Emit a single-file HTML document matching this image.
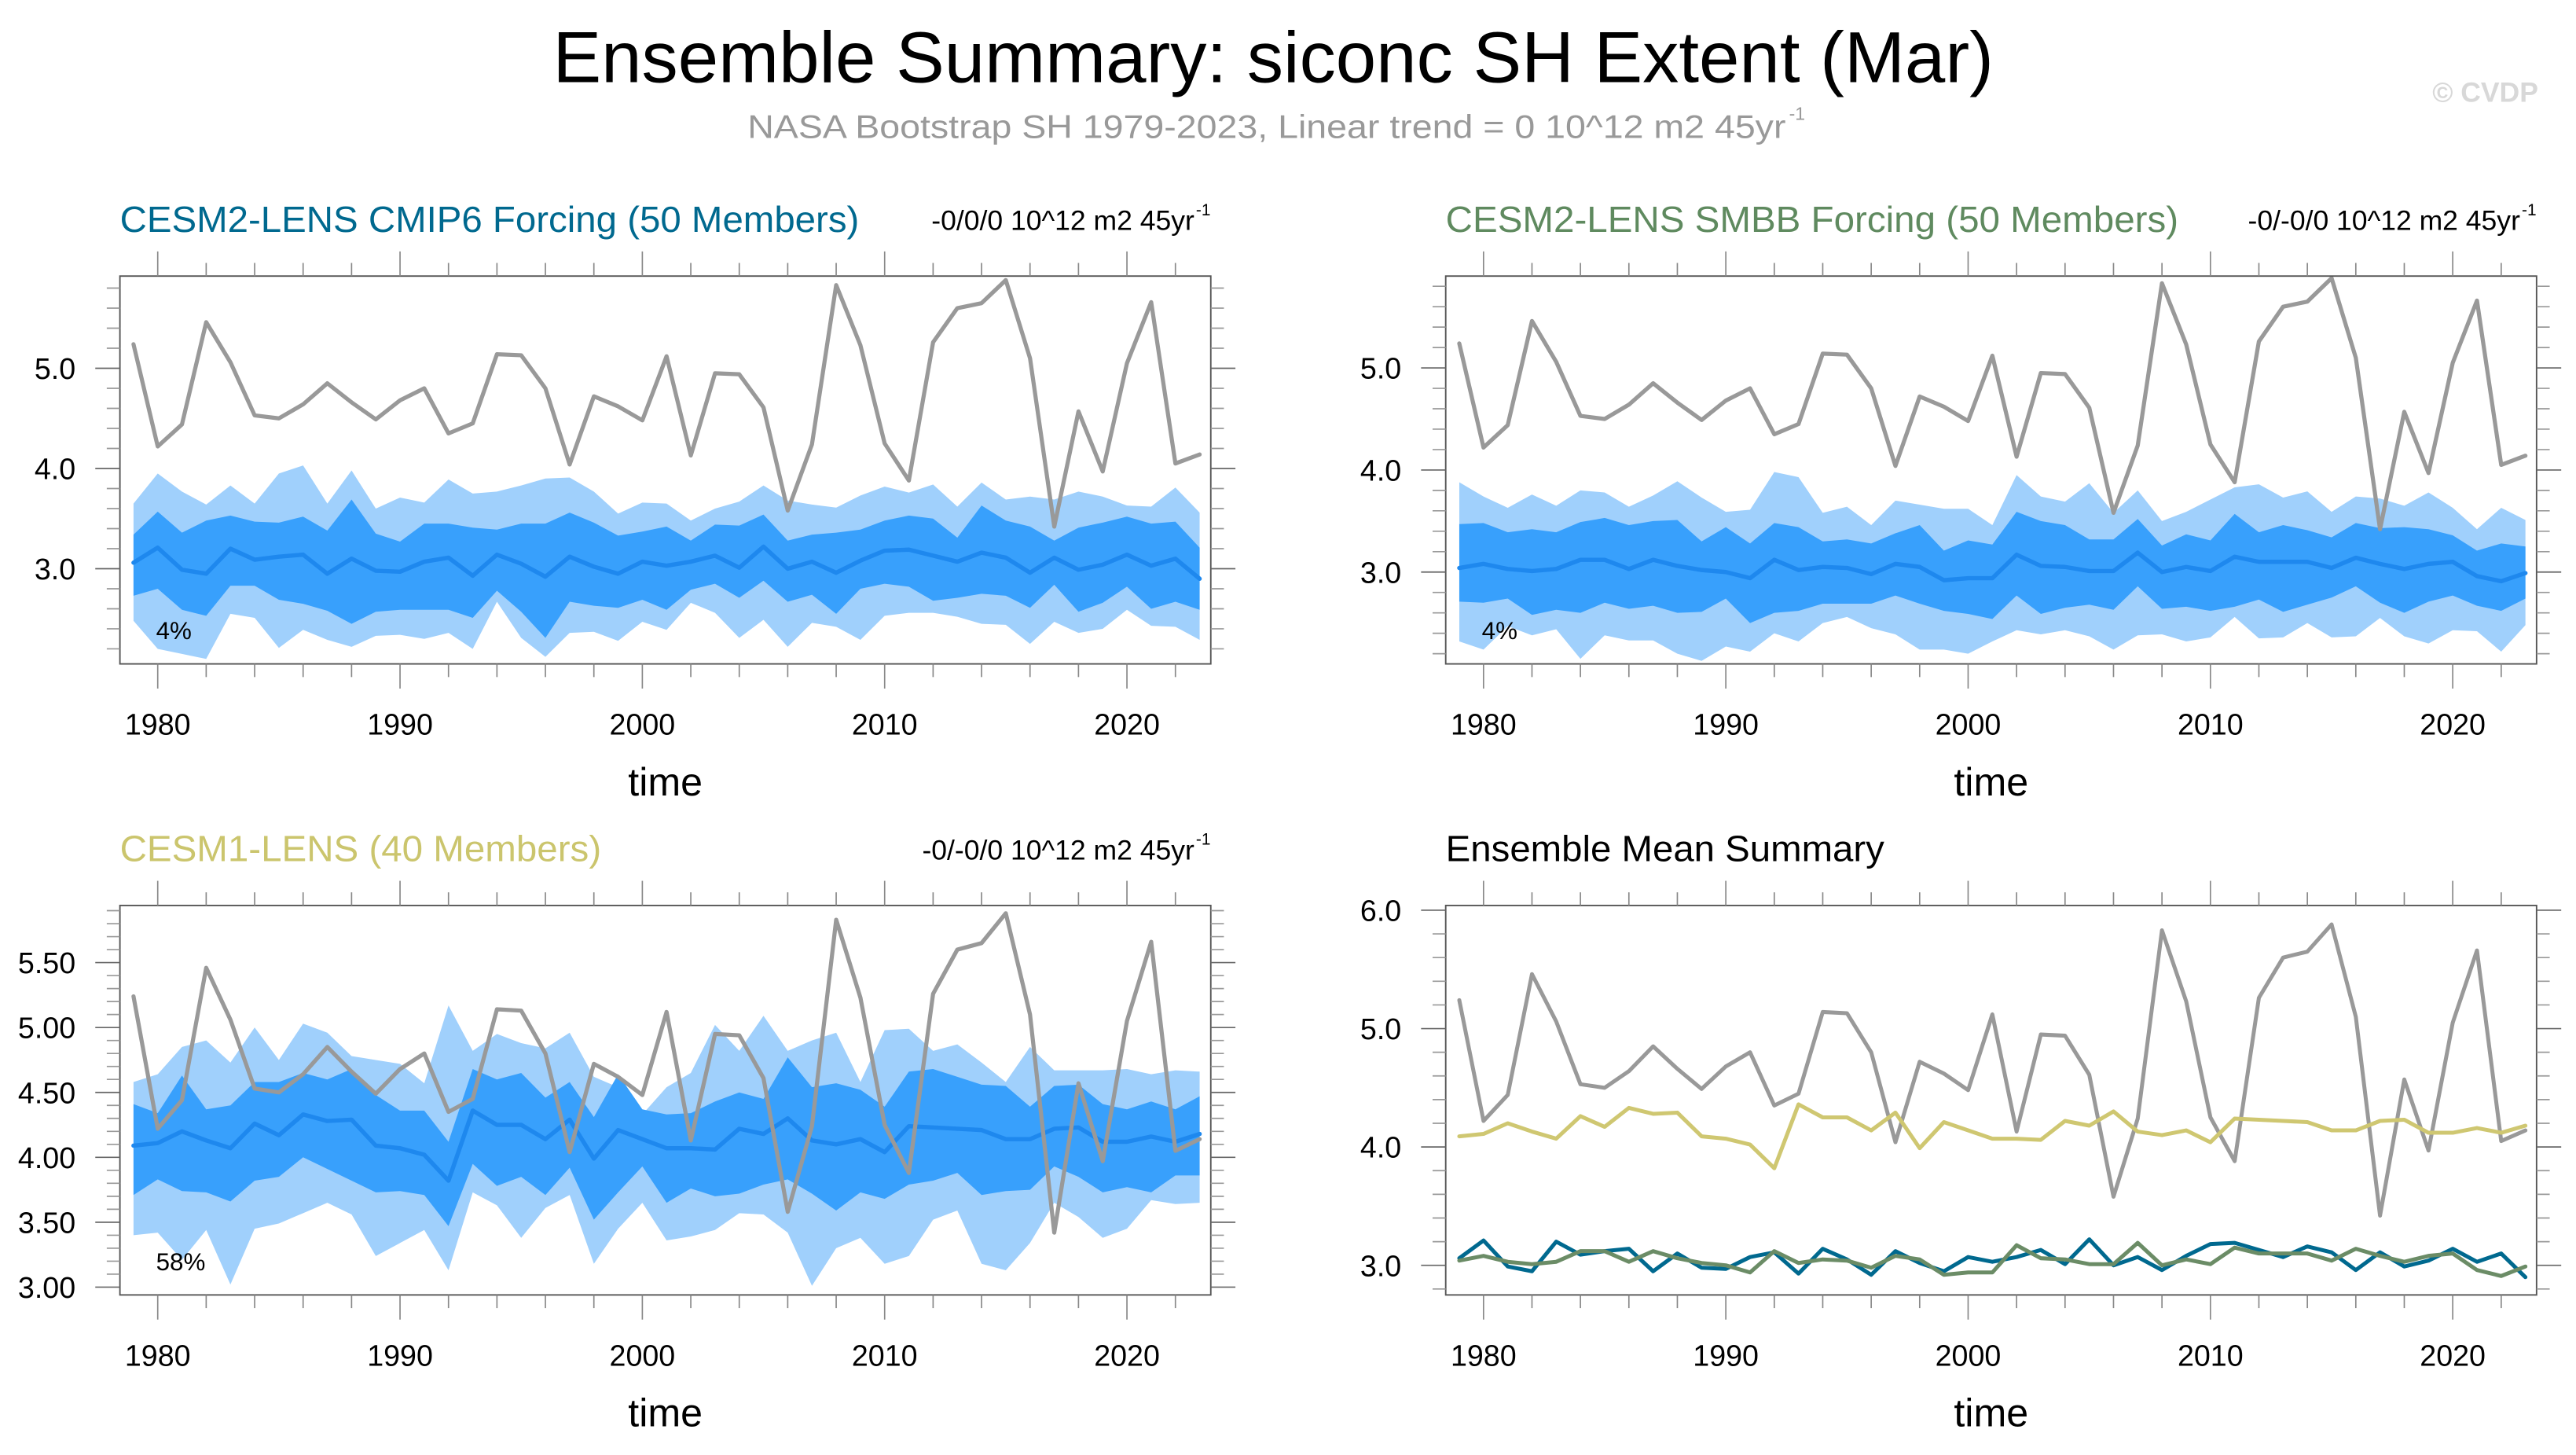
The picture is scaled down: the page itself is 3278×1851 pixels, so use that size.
<!DOCTYPE html>
<html><head><meta charset="utf-8"><style>
html,body{margin:0;padding:0;background:#fff;}
svg{display:block;font-family:"Liberation Sans",Arial,sans-serif;}
</style></head><body>
<svg id="fig" xmlns="http://www.w3.org/2000/svg" width="3278" height="1851" viewBox="0 0 1568 885.4">
<rect width="1568" height="885.4" fill="#fff"/>
<text x="775" y="50" font-size="44" text-anchor="middle" textLength="877" lengthAdjust="spacingAndGlyphs">Ensemble Summary: siconc SH Extent (Mar)</text>
<text x="455" y="84" font-size="20" fill="#999" textLength="632" lengthAdjust="spacingAndGlyphs">NASA Bootstrap SH 1979-2023, Linear trend = 0 10^12 m2 45yr</text>
<text x="1089" y="73" font-size="11" fill="#999">-1</text>
<text x="1545" y="62" font-size="17" font-weight="bold" fill="#d8d8d8" text-anchor="end">© CVDP</text>
<g id="panels"></g>
</svg>
<script>
const years=[];for(let y=1979;y<=2023;y++)years.push(y);
const obs=[5.24,4.22,4.44,5.46,5.06,4.53,4.50,4.64,4.85,4.66,4.49,4.68,4.80,4.35,4.45,5.14,5.13,4.80,4.04,4.72,4.62,4.48,5.12,4.13,4.95,4.94,4.61,3.58,4.24,5.83,5.23,4.25,3.88,5.26,5.60,5.65,5.88,5.10,3.42,4.57,3.97,5.05,5.66,4.05,4.14];
const cmip6Mean=[3.06,3.21,2.99,2.95,3.20,3.09,3.12,3.14,2.95,3.10,2.98,2.97,3.07,3.11,2.93,3.14,3.05,2.92,3.12,3.02,2.95,3.07,3.03,3.07,3.13,3.01,3.22,3.00,3.07,2.96,3.08,3.18,3.19,3.13,3.07,3.16,3.11,2.96,3.11,2.99,3.04,3.14,3.03,3.10,2.90];
const cmip6OuterHi=[3.65,3.95,3.77,3.64,3.83,3.65,3.95,4.03,3.65,3.98,3.60,3.71,3.66,3.89,3.75,3.77,3.83,3.90,3.91,3.77,3.55,3.66,3.65,3.48,3.60,3.67,3.83,3.68,3.64,3.61,3.73,3.82,3.76,3.84,3.62,3.86,3.69,3.72,3.69,3.77,3.72,3.63,3.62,3.81,3.56];
const cmip6InnerHi=[3.34,3.57,3.36,3.48,3.53,3.47,3.46,3.52,3.38,3.69,3.35,3.27,3.45,3.45,3.41,3.39,3.45,3.45,3.56,3.46,3.33,3.37,3.42,3.28,3.44,3.43,3.54,3.28,3.34,3.36,3.39,3.48,3.53,3.50,3.31,3.63,3.48,3.42,3.28,3.41,3.46,3.52,3.45,3.47,3.21];
const cmip6InnerLo=[2.73,2.80,2.59,2.53,2.83,2.83,2.69,2.65,2.58,2.45,2.57,2.59,2.59,2.59,2.51,2.78,2.57,2.31,2.67,2.63,2.61,2.69,2.59,2.79,2.85,2.71,2.88,2.67,2.74,2.55,2.80,2.85,2.82,2.68,2.71,2.75,2.73,2.61,2.84,2.57,2.66,2.82,2.60,2.67,2.59];
const cmip6OuterLo=[2.48,2.20,2.15,2.10,2.55,2.51,2.21,2.39,2.29,2.22,2.33,2.34,2.30,2.36,2.20,2.67,2.31,2.12,2.36,2.37,2.28,2.47,2.39,2.66,2.56,2.31,2.49,2.22,2.46,2.42,2.29,2.53,2.56,2.56,2.52,2.45,2.44,2.25,2.47,2.36,2.40,2.59,2.43,2.42,2.29];
const smbbMean=[3.04,3.08,3.03,3.01,3.03,3.12,3.12,3.03,3.12,3.06,3.02,3.00,2.94,3.12,3.02,3.05,3.04,2.98,3.08,3.05,2.92,2.94,2.94,3.17,3.06,3.05,3.01,3.01,3.19,3.00,3.05,3.01,3.15,3.10,3.10,3.10,3.04,3.14,3.08,3.03,3.08,3.10,2.96,2.91,2.99];
const smbbOuterHi=[3.88,3.74,3.63,3.76,3.65,3.80,3.78,3.64,3.75,3.89,3.73,3.59,3.61,3.98,3.93,3.58,3.64,3.46,3.70,3.66,3.62,3.62,3.46,3.95,3.74,3.69,3.87,3.58,3.80,3.50,3.59,3.71,3.83,3.86,3.73,3.79,3.59,3.74,3.72,3.65,3.78,3.63,3.42,3.63,3.51];
const smbbInnerHi=[3.47,3.48,3.39,3.42,3.39,3.49,3.53,3.46,3.50,3.51,3.30,3.44,3.28,3.48,3.44,3.30,3.32,3.28,3.38,3.46,3.21,3.31,3.27,3.59,3.50,3.46,3.32,3.32,3.52,3.26,3.37,3.31,3.57,3.39,3.46,3.41,3.34,3.48,3.43,3.44,3.42,3.36,3.21,3.28,3.25];
const smbbInnerLo=[2.71,2.70,2.74,2.58,2.63,2.60,2.70,2.64,2.67,2.60,2.61,2.74,2.50,2.60,2.62,2.69,2.69,2.69,2.77,2.69,2.62,2.59,2.54,2.77,2.59,2.65,2.68,2.63,2.86,2.64,2.66,2.62,2.66,2.73,2.61,2.68,2.75,2.86,2.70,2.60,2.71,2.77,2.67,2.62,2.74];
const smbbOuterLo=[2.32,2.24,2.47,2.38,2.44,2.15,2.38,2.33,2.33,2.20,2.13,2.27,2.22,2.40,2.32,2.50,2.56,2.45,2.39,2.24,2.24,2.20,2.32,2.43,2.39,2.43,2.37,2.24,2.38,2.39,2.32,2.36,2.56,2.35,2.36,2.50,2.36,2.37,2.55,2.37,2.30,2.43,2.42,2.22,2.48];
const lens1Mean=[4.09,4.11,4.20,4.13,4.07,4.26,4.17,4.33,4.28,4.29,4.09,4.07,4.02,3.82,4.36,4.25,4.25,4.14,4.29,3.99,4.21,4.14,4.07,4.07,4.06,4.22,4.18,4.30,4.13,4.10,4.14,4.04,4.24,4.23,4.22,4.21,4.14,4.14,4.22,4.23,4.12,4.12,4.16,4.12,4.18];
const lens1OuterHi=[4.58,4.64,4.85,4.90,4.73,5.00,4.75,5.03,4.96,4.78,4.75,4.72,4.57,5.17,4.82,4.95,4.88,4.84,4.96,4.62,4.54,4.33,4.54,4.65,5.02,4.82,5.09,4.82,4.90,4.96,4.58,4.98,4.99,4.82,4.87,4.73,4.58,4.85,4.67,4.67,4.67,4.68,4.64,4.67,4.66];
const lens1InnerHi=[4.41,4.34,4.63,4.37,4.40,4.58,4.58,4.65,4.60,4.68,4.48,4.36,4.36,4.12,4.68,4.60,4.65,4.46,4.58,4.31,4.64,4.37,4.33,4.34,4.43,4.50,4.45,4.77,4.54,4.57,4.52,4.39,4.66,4.68,4.62,4.56,4.55,4.39,4.55,4.56,4.41,4.37,4.43,4.37,4.47];
const lens1InnerLo=[3.71,3.83,3.74,3.73,3.66,3.82,3.85,4.00,3.91,3.82,3.73,3.74,3.71,3.47,3.95,3.78,3.85,3.71,3.92,3.52,3.73,3.93,3.65,3.76,3.70,3.72,3.79,3.83,3.72,3.59,3.73,3.68,3.79,3.82,3.88,3.71,3.74,3.75,3.93,3.85,3.73,3.77,3.73,3.86,3.86];
const lens1OuterLo=[3.40,3.42,3.21,3.44,3.02,3.45,3.49,3.57,3.65,3.56,3.24,3.34,3.44,3.13,3.73,3.63,3.38,3.61,3.71,3.18,3.45,3.65,3.36,3.39,3.44,3.57,3.56,3.42,3.01,3.30,3.38,3.18,3.24,3.52,3.59,3.18,3.13,3.34,3.65,3.54,3.38,3.45,3.67,3.64,3.65];
const xTicks=[1980,1990,2000,2010,2020];

const NS="http://www.w3.org/2000/svg";
const root=document.getElementById('panels');
function el(tag,attrs,parent){const e=document.createElementNS(NS,tag);for(const k in attrs)e.setAttribute(k,attrs[k]);(parent||root).appendChild(e);return e;}
function txt(str,attrs,parent){const e=el('text',attrs,parent);e.textContent=str;return e;}

function panel(cfg){
  const g=el('g',{});
  
  
  const {x0,x1,y0,y1,vmin,vmax}=cfg;
  const X=yr=>x0+(yr-1978.44)/(2023.46-1978.44)*(x1-x0);
  const Y=v=>y1-(v-vmin)/(vmax-vmin)*(y1-y0);
  const clip='clip-'+cfg.name;
  const cp=el('clipPath',{id:clip},g);el('rect',{x:x0,y:y0,width:x1-x0,height:y1-y0},cp);
  const pg=el('g',{'clip-path':'url(#'+clip+')'},g);
  function band(hi,lo,color,name){
    let d='';years.forEach((yr,i)=>{d+=(i?'L':'M')+X(yr).toFixed(2)+' '+Y(hi[i]).toFixed(2);});
    for(let i=years.length-1;i>=0;i--)d+='L'+X(years[i]).toFixed(2)+' '+Y(lo[i]).toFixed(2);
    const p=el('path',{d:d+'Z',fill:color},pg);
    
    
  }
  function line(vals,color,w,name){
    const pts=years.map((yr,i)=>X(yr).toFixed(2)+','+Y(vals[i]).toFixed(2)).join(' ');
    const p=el('polyline',{points:pts,fill:'none',stroke:color,'stroke-width':w,'stroke-linejoin':'round','stroke-linecap':'round'},pg);
    
    
  }
  if(cfg.bands){
    const b=cfg.bands;
    band(b.oh,b.ol,'#a0d0fc','outer-spread-band');
    band(b.ih,b.il,'#38a0fc','inner-spread-band');
    line(b.m,'#1e88ee',2.6,'ensemble-mean-line');
    line(obs,'#999',2.5,'observations-line');
  }
  if(cfg.lines){cfg.lines.forEach(l=>line(l.v,l.c,2.4,l.n));}
  const frame=el('rect',{x:x0,y:y0,width:x1-x0,height:y1-y0,fill:'none',stroke:'#555','stroke-width':0.9},g);
  
  
  for(let yr=1980;yr<=2022;yr+=2){
    const maj=yr%10===0,L=maj?15:8,x=X(yr);
    el('line',{x1:x,x2:x,y1:y0,y2:y0-L,stroke:'#888','stroke-width':0.8},g);
    el('line',{x1:x,x2:x,y1:y1,y2:y1+L,stroke:'#888','stroke-width':0.8},g);
  }
  xTicks.forEach(yr=>{const t=txt(String(yr),{x:X(yr),y:y1+43,'font-size':18,'text-anchor':'middle'},g);
    });
  const st=cfg.minor;
  for(let v=Math.ceil(vmin/st-1e-6)*st;v<=vmax+1e-6;v+=st){
    const vv=Math.round(v*100)/100;const maj=cfg.yTicks.some(t=>Math.abs(t-vv)<1e-6);
    const L=maj?15:8,y=Y(vv);
    el('line',{x1:x0,x2:x0-L,y1:y,y2:y,stroke:maj?'#666':'#999','stroke-width':0.8},g);
    el('line',{x1:x1,x2:x1+L,y1:y,y2:y,stroke:maj?'#666':'#999','stroke-width':0.8},g);
  }
  cfg.yTicks.forEach(v=>{const t=txt(v.toFixed(cfg.dec),{x:x0-27,y:Y(v)+6.5,'font-size':18,'text-anchor':'end'},g);
    });
  const xt=txt('time',{x:(x0+x1)/2,y:y1+80,'font-size':24,'text-anchor':'middle'},g);
  
  const pt=txt(cfg.title,{x:x0,y:y0-27,'font-size':22,fill:cfg.tcolor,textLength:cfg.tlen,lengthAdjust:'spacingAndGlyphs'},g);
  
  if(cfg.trend){
    const tr=txt(cfg.trend,{x:x1-10,y:y0-28,'font-size':17,'text-anchor':'end'},g);
    
    const sp=txt('-1',{x:x1-9,y:y0-37,'font-size':10},g);
    
  }
  if(cfg.pct){
    const pc=txt(cfg.pct,{x:x0+22,y:y1-15,'font-size':15},g);
    
  }
}
panel({name:'panel-cesm2-cmip6',x0:73,x1:737,y0:168,y1:404,vmin:2.05,vmax:5.92,yTicks:[3,4,5],dec:1,minor:0.2,
  title:'CESM2-LENS CMIP6 Forcing (50 Members)',tcolor:'#00698f',tlen:450,trend:'-0/0/0 10^12 m2 45yr',pct:'4%',
  bands:{m:cmip6Mean,oh:cmip6OuterHi,ih:cmip6InnerHi,il:cmip6InnerLo,ol:cmip6OuterLo}});
panel({name:'panel-cesm2-smbb',x0:880,x1:1544,y0:168,y1:404,vmin:2.10,vmax:5.90,yTicks:[3,4,5],dec:1,minor:0.2,
  title:'CESM2-LENS SMBB Forcing (50 Members)',tcolor:'#5f8a5f',tlen:446,trend:'-0/-0/0 10^12 m2 45yr',pct:'4%',
  bands:{m:smbbMean,oh:smbbOuterHi,ih:smbbInnerHi,il:smbbInnerLo,ol:smbbOuterLo}});
panel({name:'panel-cesm1-lens',x0:73,x1:737,y0:551,y1:788,vmin:2.94,vmax:5.94,yTicks:[3,3.5,4,4.5,5,5.5],dec:2,minor:0.1,
  title:'CESM1-LENS (40 Members)',tcolor:'#cbc56d',tlen:293,trend:'-0/-0/0 10^12 m2 45yr',pct:'58%',
  bands:{m:lens1Mean,oh:lens1OuterHi,ih:lens1InnerHi,il:lens1InnerLo,ol:lens1OuterLo}});
panel({name:'panel-ensemble-mean-summary',x0:880,x1:1544,y0:551,y1:788,vmin:2.75,vmax:6.04,yTicks:[3,4,5,6],dec:1,minor:0.2,
  title:'Ensemble Mean Summary',tcolor:'#000',tlen:267,
  lines:[{v:obs,c:'#999',n:'observations-line'},{v:lens1Mean,c:'#cfc771',n:'cesm1-mean-line'},{v:cmip6Mean,c:'#00698f',n:'cmip6-mean-line'},{v:smbbMean,c:'#6b8c66',n:'smbb-mean-line'}]});
</script>
</body></html>
